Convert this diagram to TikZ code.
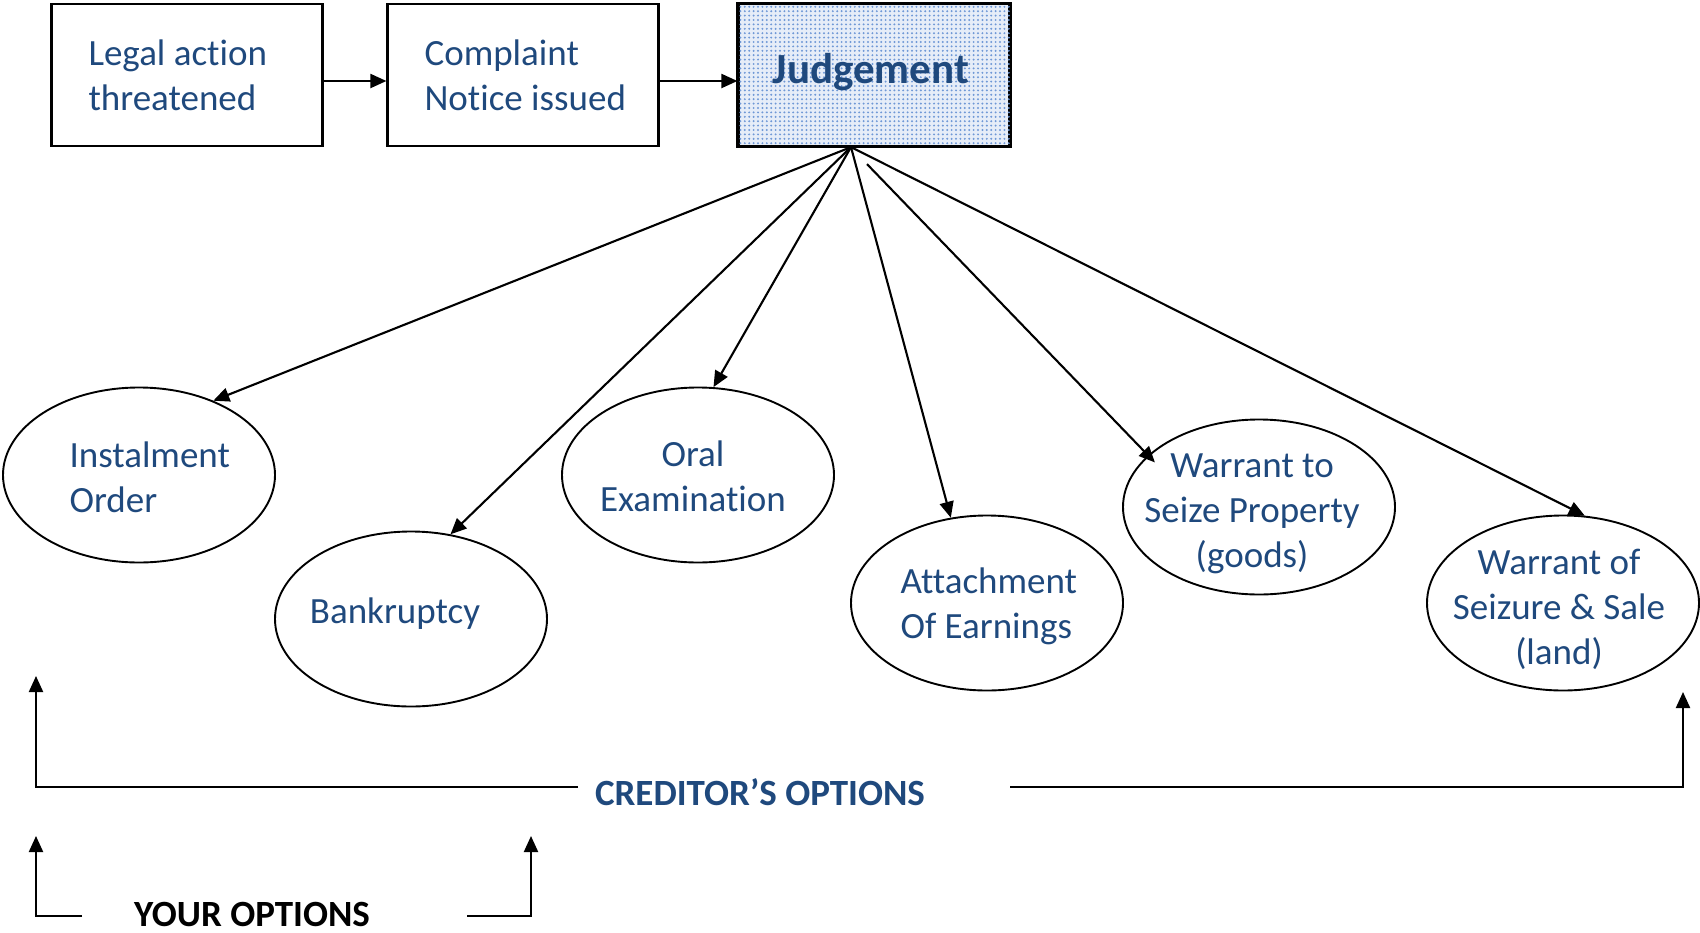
\documentclass[tikz,border=0pt]{standalone}
\usepackage{fontspec}
\setmainfont{Carlito}[Ligatures=NoCommon]
\usetikzlibrary{shapes.geometric,arrows.meta,patterns,calc}
\definecolor{txtblue}{HTML}{1F497D}
\definecolor{dotblue}{HTML}{6F98D6}
\definecolor{boxbg}{HTML}{E6EDF8}
\pgfdeclarepatternformonly{bigdots}{\pgfqpoint{-1pt}{-1pt}}{\pgfqpoint{5pt}{5pt}}{\pgfqpoint{4.4pt}{4.4pt}}{%
  \pgfpathcircle{\pgfqpoint{1.2pt}{1.2pt}}{1.1pt}\pgfusepath{fill}}
\begin{document}
\begin{tikzpicture}[x=1pt,y=-1pt,
  every node/.style={font=\fontsize{37}{45}\selectfont, text=txtblue},
  boxnode/.style={draw=black, line width=2.2pt, minimum width=271pt, minimum height=142pt, inner sep=0pt},
  oval/.style={ellipse, draw=black, line width=1.9pt, minimum width=272pt, minimum height=175pt, inner sep=0pt},
  lbl/.style={align=center},
  conn/.style={line width=2.1pt, -{Triangle[length=16pt,width=14pt]}},
  boldlbl/.style={font=\fontsize{37}{44}\bfseries\selectfont}]
\useasboundingbox (0,0) rectangle (1700,932);

% top boxes
\node[boxnode] (legal) at (187,75) {};
\node[anchor=west, align=left] at (85,75) {Legal action\\threatened};
\node[boxnode] (compl) at (523,75) {};
\node[anchor=west, align=left] at (421,75) {Complaint\\Notice issued};
\node[boxnode, fill=boxbg] (judg) at (874,75) {};
\fill[pattern=bigdots, pattern color=dotblue] (judg.south west) rectangle (judg.north east);
\draw[line width=2.2pt] (judg.south west) rectangle (judg.north east);
\node[font=\fontsize{43}{50}\bfseries\selectfont] at (871,72) {Judgement};

\draw[conn] ($(legal.east)+(0,6)$) -- ($(compl.west)+(0,6)$);
\draw[conn] ($(compl.east)+(0,6)$) -- ($(judg.west)+(0,6)$);

% ellipses
\node[oval] (inst) at (139,475) {};
\node[anchor=west, align=left] at (66,477) {Instalment\\Order};
\node[oval] (bank) at (411,619) {};
\node at (395,614) {Bankruptcy};
\node[oval] (oral) at (698,475) {};
\node[lbl] at (693,476) {Oral\\Examination};
\node[oval] (att) at (987,603) {};
\node[anchor=west, align=left] at (897,606) {Attachment\\Of Earnings};
\node[oval] (ws) at (1259,507) {};
\node[lbl] at (1252,514) {Warrant to\\Seize Property\\(goods)};
\node[oval] (wss) at (1563,603) {};
\node[lbl] at (1559,609) {Warrant of\\Seizure \& Sale\\(land)};

% connectors from judgement
\coordinate (jo) at ($(judg.south)+(-23,0)$);
\coordinate (js) at ($(judg.south)+(-7,17)$);
\draw[conn] (jo) -- (inst.45);
\draw[conn] (jo) -- (bank.65);
\draw[conn] (jo) -- (oral.80);
\draw[conn] (jo) -- (att.113);
\draw[conn, shorten >=-10pt] (js) -- (ws.155);
\draw[conn] (jo) -- (wss.76);

% creditor's options
\node[boldlbl] (cred) at (760,792) {CREDITOR’S OPTIONS};
\coordinate (c0) at (578,787);
\coordinate (c1) at (36,787);
\coordinate (c1t) at (36,676);
\coordinate (c3) at (1010,787);
\coordinate (c2) at (1683,787);
\coordinate (c2t) at (1683,692);
\draw[conn] (c0) -- (c1) -- (c1t);
\draw[conn] (c3) -- (c2) -- (c2t);

% your options
\node[boldlbl, text=black, anchor=base, inner sep=0pt, text depth=0pt] (your) at (252,926) {YOUR OPTIONS};
\coordinate (y0) at (82,916);
\coordinate (y1) at (36,916);
\coordinate (y1t) at (36,836);
\coordinate (y3) at (467,916);
\coordinate (y2) at (531,916);
\coordinate (y2t) at (531,836);
\draw[conn] (y0) -- (y1) -- (y1t);
\draw[conn] (y3) -- (y2) -- (y2t);
\end{tikzpicture}
\end{document}
